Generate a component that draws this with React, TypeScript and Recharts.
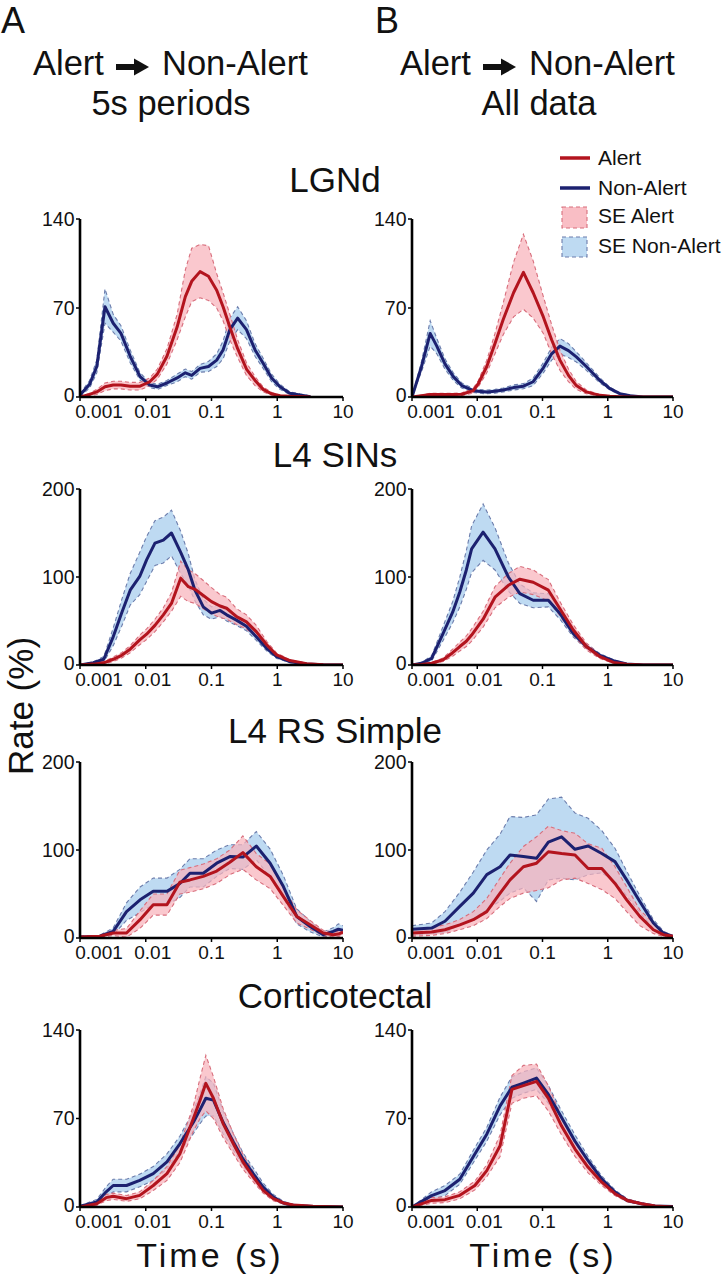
import React from 'react';
import { ComposedChart, Area, Line, XAxis, YAxis } from 'recharts';

const FONT = '"Liberation Sans", Arial, Helvetica, sans-serif';
const RED = '#b3141e';
const BLUE = '#1c2170';
const RED_FILL = '#f8b3bb';
const BLUE_FILL = '#b3d3f0';
const RED_DASH = '#d86e7c';
const BLUE_DASH = '#6c7dac';

const xTicks = [0.001, 0.01, 0.1, 1, 10];
const xTickLabels = ['0.001', '0.01', '0.1', '1', '10'];
const yTicks140 = [0, 70, 140];
const yTicks200 = [0, 100, 200];

// ---------- LGNd, A (5s periods) ----------
const lgnA_t = [0.001, 0.0014, 0.0018, 0.0024, 0.0032, 0.0042, 0.0058, 0.0082, 0.0115, 0.015, 0.021, 0.03, 0.04, 0.05, 0.067, 0.09, 0.12, 0.15, 0.19, 0.25, 0.34, 0.46, 0.61, 0.82, 1.1, 1.55, 2.2, 3.2];
const lgnA_non = [1.5, 10, 24, 71, 58, 50, 32, 16, 9.4, 8, 11, 15, 19, 17, 22.5, 24, 29, 37, 53, 62, 53, 37, 26.5, 15, 8, 3, 1.5, 0.3];
const lgnA_nonLo = [0.5, 7, 19, 58, 51, 44, 27, 13, 7.4, 6, 9, 12, 16, 14, 19.5, 20, 24, 30, 44, 53, 46, 32, 22.5, 12, 6, 2, 0.5, 0];
const lgnA_nonHi = [2.5, 13, 29, 85, 65, 56, 37, 19, 11.4, 10, 13, 18, 22, 20, 25.5, 28, 34, 44, 62, 71, 60, 42, 30.5, 18, 10, 4, 2.5, 0.8];
const lgnA_alert = [0, 2, 4, 8, 9.4, 9.4, 8.5, 8.5, 12, 18, 32, 55, 79, 91, 98.6, 95, 84, 71, 55, 38, 22, 13, 6, 2.5, 1, 0.5, 0.3, 0];
const lgnA_alertLo = [0, 1, 2, 5, 6.4, 6.4, 5.5, 5.5, 9, 14, 26, 45, 63, 75, 78, 76, 70, 60, 45, 31, 17, 9, 4, 1.5, 0.5, 0.2, 0.1, 0];
const lgnA_alertHi = [0, 3, 6, 11, 12.4, 12.4, 11.5, 11.5, 15, 22, 38, 65, 100, 117, 120, 119, 97, 82, 65, 45, 27, 16, 8, 3.5, 1.5, 0.8, 0.5, 0];

// ---------- LGNd, B (all data) ----------
const lgnB_t = [0.001, 0.0014, 0.0019, 0.0024, 0.0032, 0.0043, 0.0058, 0.0087, 0.0104, 0.014, 0.0187, 0.025, 0.036, 0.051, 0.072, 0.103, 0.138, 0.185, 0.25, 0.33, 0.47, 0.76, 1.08, 1.53, 2.2, 3.5, 10];
const lgnB_non = [0, 24, 50, 40, 26, 16, 9, 5, 4.5, 4, 4.5, 5.5, 7.4, 8.5, 12, 23, 34, 40, 36.5, 31.5, 24, 13, 6.6, 2.6, 1, 0, 0];
const lgnB_nonLo = [0, 20, 40, 34, 22, 13, 7, 3.5, 3, 2.5, 3, 4, 5.5, 6.5, 9, 19, 29, 34, 31, 27.5, 21, 11, 5.5, 2, 0.5, 0, 0];
const lgnB_nonHi = [0, 28, 60, 46, 30, 19, 11, 6.5, 6, 5.5, 6, 7, 9.5, 10.5, 15, 27, 39, 46, 42, 35.5, 27, 15, 7.8, 3.2, 1.5, 0, 0];
const lgnB_alert = [0, 1, 2, 2, 2, 2, 2.2, 5, 10.6, 24, 42, 61, 82, 98, 82, 63, 45, 29, 17, 9, 4, 1.3, 0.5, 0.2, 0, 0, 0];
const lgnB_alertLo = [0, 0.5, 1, 1, 1, 1, 1.2, 3, 8, 19, 34, 49, 63, 69, 62, 50, 34, 21, 12, 6, 2.5, 0.6, 0.2, 0, 0, 0, 0];
const lgnB_alertHi = [0, 1.5, 3, 3, 3, 3, 3.2, 7, 13, 29, 50, 74, 106, 128, 107, 79, 57, 37, 22, 12, 5.5, 2, 0.8, 0.4, 0, 0, 0];

// ---------- L4 SINs, A ----------
const sinA_t = [0.001, 0.0016, 0.0023, 0.0032, 0.0043, 0.0058, 0.0081, 0.0103, 0.0138, 0.0185, 0.0246, 0.034, 0.0445, 0.056, 0.075, 0.1, 0.135, 0.17, 0.24, 0.34, 0.48, 0.69, 0.98, 1.55, 2.8, 5, 10];
const sinA_non = [0, 2.7, 6.5, 32, 59, 85, 100.6, 119.5, 138.5, 142, 150, 128, 108, 85, 66, 59, 62, 57, 51, 44, 32, 19, 9.5, 3.8, 1.1, 0.2, 0];
const sinA_nonLo = [0, 1.7, 3.5, 22, 44, 68, 80, 95, 113, 116, 124, 104, 90, 73, 57, 52, 55, 50, 45, 39, 28, 16, 7.5, 2.8, 0.6, 0, 0];
const sinA_nonHi = [0, 3.7, 9.5, 42, 74, 104, 128, 146, 164, 168, 176, 152, 126, 97, 75, 66, 69, 64, 57, 49, 36, 22, 11.5, 4.8, 1.6, 0.4, 0];
const sinA_alert = [0, 1, 2.5, 6.5, 11, 18, 28.5, 35, 45, 57, 70, 98.7, 89, 86, 79, 72, 67, 64.5, 55, 49, 38, 23, 11.4, 5, 1.5, 0.3, 0];
const sinA_alertLo = [0, 0.5, 1, 4, 8, 14, 23, 29, 38, 49, 61, 78, 72, 70, 64, 58, 54, 52, 46, 41, 32, 19, 9, 4, 1, 0, 0];
const sinA_alertHi = [0, 1.5, 4, 9, 14, 22, 34, 41, 52, 65, 82, 118, 108, 104, 96, 88, 80, 77, 64, 57, 45, 27, 13.5, 6, 2, 0.5, 0];

// ---------- L4 SINs, B ----------
const sinB_t = [0.001, 0.0014, 0.002, 0.003, 0.0042, 0.0054, 0.0068, 0.0082, 0.0123, 0.0187, 0.03, 0.045, 0.072, 0.123, 0.185, 0.295, 0.47, 0.76, 1.22, 1.95, 3.5, 10];
const sinB_non = [0, 2, 7.5, 36, 60, 83, 108, 132, 151, 132, 100, 81, 73.6, 73.6, 58.5, 36, 21, 11, 5, 1.1, 0, 0];
const sinB_nonLo = [0, 1, 4.5, 28, 48, 66, 86, 105, 119, 108, 84, 70, 65, 66, 52, 32, 18, 9, 4, 0.6, 0, 0];
const sinB_nonHi = [0, 3, 10.5, 44, 72, 100, 130, 158, 183, 156, 116, 92, 82, 81, 65, 40, 24, 13, 6, 1.6, 0, 0];
const sinB_alert = [0, 0.5, 2, 6, 14, 21, 27, 34, 52, 77, 90.6, 97.5, 94, 85, 64, 40, 21, 9.4, 3, 0.8, 0, 0];
const sinB_alertLo = [0, 0, 1, 4, 10, 16, 21, 27, 43, 65, 77, 83, 80, 73, 56, 34, 17, 7.4, 2, 0.3, 0, 0];
const sinB_alertHi = [0, 1, 3, 8, 18, 26, 33, 41, 61, 89, 104, 112, 108, 97, 72, 46, 25, 11.4, 4, 1.3, 0, 0];

// ---------- L4 RS Simple, A ----------
const rsA_t = [0.001, 0.002, 0.0032, 0.0051, 0.0082, 0.013, 0.021, 0.033, 0.047, 0.075, 0.12, 0.19, 0.3, 0.48, 0.78, 1.24, 1.98, 3.16, 5, 7.1, 8.5, 10];
const rsA_non = [1, 2, 7.5, 30, 43.4, 53, 53, 62, 73.6, 73.6, 85, 92.5, 92, 104.5, 85, 58.5, 24.5, 13, 3.8, 7.5, 10, 8.7];
const rsA_nonLo = [0, 1, 3.5, 20, 29, 38, 38, 46, 58, 58, 70, 79, 78, 89, 69, 46, 16, 7, 1, 3.5, 4, 3];
const rsA_nonHi = [2, 3, 11.5, 40, 58, 68, 68, 78, 90, 90, 100, 106, 106, 121, 101, 71, 33, 19, 7, 11.5, 16, 14];
const rsA_alert = [1, 2, 5.7, 5.7, 20.8, 37.7, 37.7, 63.4, 66, 70, 76, 86, 97, 81, 70, 47, 24.5, 15, 5.7, 3.8, 4.5, 6.8];
const rsA_alertLo = [0, 1, 2.7, 1, 11, 26, 26, 50, 52, 56, 62, 72, 78, 66, 56, 37, 17, 10, 2.7, 1, 1.5, 3.8];
const rsA_alertHi = [2, 3, 8.7, 10.7, 31, 50, 50, 77, 80, 84, 90, 100, 116, 96, 84, 57, 32, 20, 8.7, 6.8, 7.5, 9.8];

// ---------- L4 RS Simple, B ----------
const rsB_t = [0.001, 0.002, 0.0032, 0.0054, 0.0087, 0.014, 0.0224, 0.0318, 0.051, 0.081, 0.123, 0.196, 0.315, 0.5, 0.81, 1.29, 1.95, 3.1, 5, 7.1, 10];
const rsB_non = [10, 11.3, 19, 36, 51, 72, 81, 94.4, 92.5, 90.6, 109, 115, 100.8, 104.5, 96, 86.8, 66, 41.5, 17, 5.7, 1.9];
const rsB_nonLo = [3, 5, 6, 15, 22, 32, 42, 51, 57, 41.5, 66, 68, 66, 72, 74, 64, 48, 29, 11, 3, 0];
const rsB_nonHi = [14, 17, 30, 52, 75, 100, 118, 138, 137, 140, 158, 160, 142, 136, 122, 102, 76, 48, 21, 8, 2];
const rsB_alert = [5.7, 6.8, 9.4, 15, 20.8, 30, 51, 66, 81, 85, 98, 96, 94.4, 79, 79, 62, 43.4, 24.5, 9.4, 3.8, 1.9];
const rsB_alertLo = [2, 3, 5, 9.4, 14, 22, 36, 45, 51, 54, 57, 66, 68, 62, 55, 45, 30, 14, 5, 2, 0];
const rsB_alertHi = [9.4, 12, 15, 21, 30, 45, 68, 85, 104, 115, 127, 122, 119, 107, 102, 81, 58, 32, 17, 7, 2];

// ---------- Corticotectal, A ----------
const ctA_t = [0.001, 0.0018, 0.0025, 0.0032, 0.0051, 0.0081, 0.013, 0.021, 0.033, 0.053, 0.067, 0.082, 0.107, 0.15, 0.215, 0.3, 0.43, 0.61, 0.87, 1.24, 1.75, 3.5, 10];
const ctA_non = [0.5, 4, 12, 17, 17, 21, 26.4, 35.7, 50, 67, 77, 86, 84.5, 67, 51.5, 38, 26.4, 15.8, 7.9, 3.2, 1.3, 0.3, 0];
const ctA_nonLo = [0, 2, 8, 12, 12, 16, 21, 30, 44, 58, 66, 72, 72, 58, 45, 33, 22, 13, 6, 2, 0.8, 0, 0];
const ctA_nonHi = [1, 6, 16, 22, 22, 26, 32, 42, 56, 76, 90, 103, 98, 76, 58, 43, 31, 19, 10, 4.5, 2, 0.6, 0];
const ctA_alert = [0, 2.6, 7.4, 8.5, 6.6, 9.2, 17, 26.4, 42, 70, 84.5, 97.8, 86, 66, 50, 35.7, 23.8, 13.2, 6.6, 3.2, 1.6, 0.5, 0];
const ctA_alertLo = [0, 1.5, 5, 6, 4.5, 6.5, 13, 21, 35, 60, 70, 76, 70, 55, 42, 30, 20, 11, 5, 2.4, 1, 0.2, 0];
const ctA_alertHi = [0, 4, 10, 11, 9, 12, 21, 32, 49, 80, 102, 120, 103, 78, 58, 42, 28, 16, 8.5, 4, 2.2, 0.8, 0];

// ---------- Corticotectal, B ----------
const ctB_t = [0.001, 0.002, 0.0032, 0.0054, 0.0092, 0.014, 0.0224, 0.034, 0.051, 0.081, 0.123, 0.196, 0.315, 0.5, 0.81, 1.29, 2, 3.3, 5.3, 10];
const ctB_non = [0, 9, 13, 22, 42, 57.6, 80, 94.7, 98, 102, 89, 70.7, 52, 36.6, 22, 11.8, 5.2, 2.6, 0.8, 0.3];
const ctB_nonLo = [0, 6, 9, 18, 37, 52, 73, 86, 90, 93, 82, 65, 47, 33, 19.5, 10, 4, 2, 0.5, 0];
const ctB_nonHi = [0, 12, 17, 26, 47, 63, 87, 103, 107, 110, 96, 76, 57, 40, 24.5, 13.5, 6.4, 3.2, 1.1, 0.5];
const ctB_alert = [0, 5.2, 5.8, 9.2, 17, 28.8, 48.4, 93, 96, 99.4, 86, 64, 45.8, 31.4, 19.6, 10.5, 5.2, 2.6, 0.8, 0];
const ctB_alertLo = [0, 3, 3.5, 6.5, 13.5, 24, 40, 82, 86, 88, 76, 57, 40, 27, 17, 9, 4, 2, 0.5, 0];
const ctB_alertHi = [0, 7.5, 8, 12, 20.5, 33.5, 57, 104, 112, 113, 96, 71, 51, 35.5, 22, 12, 6.4, 3.2, 1.1, 0];

type Row = { t: number; a: number; n: number; aR: number[]; nR: number[] };

function buildRows(t: number[], alert: number[], aLo: number[], aHi: number[], non: number[], nLo: number[], nHi: number[]): Row[] {
  return t.map((tv, i) => ({ t: tv, a: alert[i], n: non[i], aR: [aLo[i], aHi[i]], nR: [nLo[i], nHi[i]] }));
}

const XTick = (props: any) => {
  const { x, y, payload } = props;
  const v = payload.value;
  const idx = xTicks.indexOf(v);
  const dx = v === 0.001 ? 19 : v === 0.01 ? 7 : 0;
  return (
    <text x={x + dx} y={y} dy="0.72em" textAnchor="middle" fontSize={19} fontFamily={FONT} fill="#111">
      {idx >= 0 ? xTickLabels[idx] : String(v)}
    </text>
  );
};

const YTick = (props: any) => {
  const { x, y, payload } = props;
  const v = payload.value;
  return (
    <text x={x} y={y + (v === 0 ? -2 : 0)} dy="0.355em" textAnchor="end" fontSize={19.5} fontFamily={FONT} fill="#111">
      {String(v)}
    </text>
  );
};

type PanelProps = {
  left: number; top: number; plotW: number; plotH: number;
  yMax: number; yTicks: number[]; rows: Row[]; blueUnderRed?: boolean;
};

function Panel({ left, top, plotW, plotH, yMax, yTicks, rows, blueUnderRed }: PanelProps) {
  const ML = 60, MT = 14, MR = 18, XH = 32;
  const axisStyle = { stroke: '#000', strokeWidth: 2.6 };
  const blueBand = (
    <Area key="nb" dataKey="nR" type="linear" fill={BLUE_FILL} fillOpacity={0.85} stroke={BLUE_DASH}
      strokeWidth={1.1} strokeDasharray="4 3" isAnimationActive={false} dot={false} activeDot={false} />
  );
  const redBand = (
    <Area key="rb" dataKey="aR" type="linear" fill={RED_FILL} fillOpacity={0.72} stroke={RED_DASH}
      strokeWidth={1.1} strokeDasharray="4 3" isAnimationActive={false} dot={false} activeDot={false} />
  );
  const blueLine = (
    <Line key="nl" dataKey="n" type="linear" stroke={BLUE} strokeWidth={3} dot={false} activeDot={false}
      isAnimationActive={false} strokeLinejoin="round" />
  );
  const redLine = (
    <Line key="rl" dataKey="a" type="linear" stroke={RED} strokeWidth={3} dot={false} activeDot={false}
      isAnimationActive={false} strokeLinejoin="round" />
  );
  const series = blueUnderRed ? [blueBand, blueLine, redBand, redLine] : [blueBand, redBand, blueLine, redLine];
  return (
    <div style={{ position: 'absolute', left: left - ML, top: top - MT }}>
      <ComposedChart width={ML + plotW + MR} height={MT + plotH + XH} data={rows}
        margin={{ top: MT, right: MR, bottom: 0, left: 0 }}>
        <XAxis dataKey="t" type="number" scale="log" domain={[0.001, 10]} ticks={xTicks} allowDataOverflow
          height={XH} axisLine={axisStyle} tickLine={{ stroke: '#000', strokeWidth: 1.5 }} tickSize={4}
          tickMargin={3} tick={XTick} interval={0} />
        <YAxis type="number" domain={[0, yMax]} ticks={yTicks} allowDataOverflow width={ML}
          axisLine={axisStyle} tickLine={{ stroke: '#000', strokeWidth: 1.5 }} tickSize={4} tickMargin={1.5}
          tick={YTick} interval={0} />
        {series}
      </ComposedChart>
    </div>
  );
}

const colLeft = [80, 412];
const colWidth = [263, 261];
const rowTop = [219, 489, 762, 1030];
const rowHeight = [178, 176, 176, 177];

const rowTitles = ['LGNd', 'L4 SINs', 'L4 RS Simple', 'Corticotectal'];
const rowTitleBaselines = [192, 467, 743, 1008];

function Arrow({ x }: { x: number }) {
  return (
    <g>
      <rect x={x} y={64} width={20} height={6} fill="#111" />
      <polygon points={`${x + 18},58.5 ${x + 33},67 ${x + 18},75.5`} fill="#111" />
    </g>
  );
}

export default function App() {
  const panels: PanelProps[] = [
    { left: colLeft[0], top: rowTop[0], plotW: colWidth[0], plotH: rowHeight[0], yMax: 140, yTicks: yTicks140,
      rows: buildRows(lgnA_t, lgnA_alert, lgnA_alertLo, lgnA_alertHi, lgnA_non, lgnA_nonLo, lgnA_nonHi) },
    { left: colLeft[1], top: rowTop[0], plotW: colWidth[1], plotH: rowHeight[0], yMax: 140, yTicks: yTicks140,
      rows: buildRows(lgnB_t, lgnB_alert, lgnB_alertLo, lgnB_alertHi, lgnB_non, lgnB_nonLo, lgnB_nonHi) },
    { left: colLeft[0], top: rowTop[1], plotW: colWidth[0], plotH: rowHeight[1], yMax: 200, yTicks: yTicks200,
      rows: buildRows(sinA_t, sinA_alert, sinA_alertLo, sinA_alertHi, sinA_non, sinA_nonLo, sinA_nonHi) },
    { left: colLeft[1], top: rowTop[1], plotW: colWidth[1], plotH: rowHeight[1], yMax: 200, yTicks: yTicks200,
      rows: buildRows(sinB_t, sinB_alert, sinB_alertLo, sinB_alertHi, sinB_non, sinB_nonLo, sinB_nonHi) },
    { left: colLeft[0], top: rowTop[2], plotW: colWidth[0], plotH: rowHeight[2], yMax: 200, yTicks: yTicks200,
      rows: buildRows(rsA_t, rsA_alert, rsA_alertLo, rsA_alertHi, rsA_non, rsA_nonLo, rsA_nonHi) },
    { left: colLeft[1], top: rowTop[2], plotW: colWidth[1], plotH: rowHeight[2], yMax: 200, yTicks: yTicks200,
      rows: buildRows(rsB_t, rsB_alert, rsB_alertLo, rsB_alertHi, rsB_non, rsB_nonLo, rsB_nonHi), blueUnderRed: true },
    { left: colLeft[0], top: rowTop[3], plotW: colWidth[0], plotH: rowHeight[3], yMax: 140, yTicks: yTicks140,
      rows: buildRows(ctA_t, ctA_alert, ctA_alertLo, ctA_alertHi, ctA_non, ctA_nonLo, ctA_nonHi) },
    { left: colLeft[1], top: rowTop[3], plotW: colWidth[1], plotH: rowHeight[3], yMax: 140, yTicks: yTicks140,
      rows: buildRows(ctB_t, ctB_alert, ctB_alertLo, ctB_alertHi, ctB_non, ctB_nonLo, ctB_nonHi) },
  ];

  return (
    <div style={{ position: 'absolute', left: 0, top: 0, width: 725, height: 1280, background: '#fff', overflow: 'hidden', fontFamily: FONT }}>
      {panels.map((p, i) => <Panel key={i} {...p} />)}
      <svg width={725} height={1280} style={{ position: 'absolute', left: 0, top: 0, pointerEvents: 'none' }}>
        <g fontFamily={FONT} fill="#111">
          <text x={1} y={33} fontSize={36}>A</text>
          <text x={375} y={33} fontSize={36}>B</text>

          <text x={33} y={75} fontSize={34.5}>Alert</text>
          <Arrow x={116} />
          <text x={162} y={75} fontSize={34.5}>Non-Alert</text>
          <text x={171} y={115} fontSize={34.5} textAnchor="middle">5s periods</text>

          <text x={400} y={75} fontSize={34.5}>Alert</text>
          <Arrow x={483} />
          <text x={529} y={75} fontSize={34.5}>Non-Alert</text>
          <text x={539} y={115} fontSize={34.5} textAnchor="middle">All data</text>

          {rowTitles.map((s, i) => (
            <text key={s} x={335} y={rowTitleBaselines[i]} fontSize={35} textAnchor="middle">{s}</text>
          ))}

          <text transform="translate(33,706) rotate(-90)" fontSize={35} textAnchor="middle">Rate (%)</text>
          <text x={210} y={1267} fontSize={34} letterSpacing={3} textAnchor="middle">Time (s)</text>
          <text x={543} y={1267} fontSize={34} letterSpacing={3} textAnchor="middle">Time (s)</text>

          <line x1={560} x2={590} y1={158} y2={158} stroke={RED} strokeWidth={3.5} />
          <text x={598} y={165} fontSize={21}>Alert</text>
          <line x1={560} x2={590} y1={188} y2={188} stroke={BLUE} strokeWidth={3.5} />
          <text x={598} y={195} fontSize={21}>Non-Alert</text>
          <rect x={562} y={207} width={25} height={21} fill={RED_FILL} fillOpacity={0.85} stroke={RED_DASH} strokeWidth={1.1} strokeDasharray="4 3" />
          <text x={598} y={223} fontSize={21}>SE Alert</text>
          <rect x={562} y={237} width={25} height={20} fill={BLUE_FILL} fillOpacity={0.85} stroke={BLUE_DASH} strokeWidth={1.1} strokeDasharray="4 3" />
          <text x={598} y={253} fontSize={21}>SE Non-Alert</text>
        </g>
      </svg>
    </div>
  );
}
